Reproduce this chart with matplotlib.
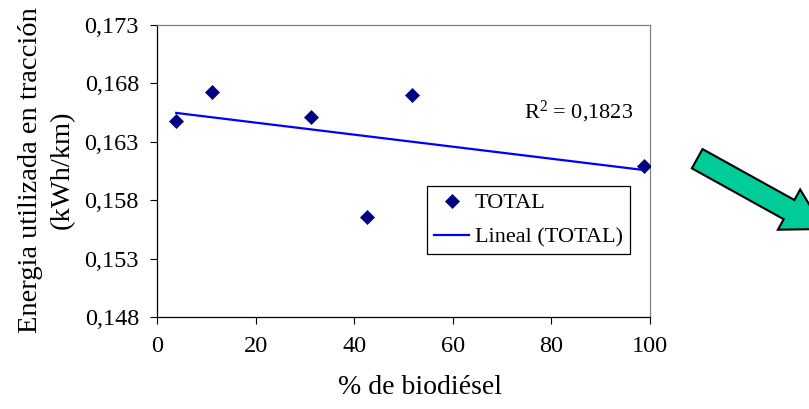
import numpy as np
import matplotlib
matplotlib.use("Agg")
import matplotlib.pyplot as plt
from matplotlib.patches import FancyArrow

plt.rcParams['font.family'] = ['Liberation Serif', 'DejaVu Serif']
plt.rcParams['mathtext.fontset'] = 'custom'
plt.rcParams['mathtext.rm'] = 'Liberation Serif'
plt.rcParams['mathtext.it'] = 'Liberation Serif'

# % biodiesel in the blend vs. traction energy (kWh/km)
biodiesel_pct = [3.9, 11.2, 31.3, 42.5, 51.7, 98.8]
energia = [0.1648, 0.1673, 0.1651, 0.1566, 0.1670, 0.1609]
r2_text = r"R$^\mathregular{2}$ = 0,1823"

yticks = [0.148, 0.153, 0.158, 0.163, 0.168, 0.173]
ytick_labels = ["0,148", "0,153", "0,158", "0,163", "0,168", "0,173"]
xticks = [0, 20, 40, 60, 80, 100]

fig = plt.figure(figsize=(8.09, 4.09), dpi=100)
ax = fig.add_axes([157 / 809, 92 / 409, 493 / 809, 292 / 409])

ax.plot(biodiesel_pct, energia, linestyle='none', marker='D', markersize=7.5,
        color='#000080', markeredgewidth=0.5, label='TOTAL', zorder=3)

# linear trend line over the measured range
slope, intercept = np.polyfit(biodiesel_pct, energia, 1)
xs = np.array([min(biodiesel_pct), max(biodiesel_pct)])
ax.plot(xs, slope * xs + intercept, color='#0000FF', linewidth=1.6,
        label='Lineal (TOTAL)', zorder=2)

ax.text(96.6, 0.16555, r2_text, ha='right', va='center', fontsize=16)

ax.set_xlim(0, 100)
ax.set_ylim(0.148, 0.173)
ax.set_xticks(xticks)
ax.set_yticks(yticks)
ax.set_yticklabels(ytick_labels)
ax.tick_params(direction='out', length=5, width=0.8, labelsize=17.5, colors='black')
ax.tick_params(axis='y', pad=8)
ax.tick_params(axis='x', pad=9)

for side in ('top', 'right'):
    ax.spines[side].set_color('#808080')
for side in ('left', 'bottom'):
    ax.spines[side].set_color('black')
for sp in ax.spines.values():
    sp.set_linewidth(0.9)

ax.set_xlabel('% de biodiésel', fontsize=20)
ax.xaxis.set_label_coords(0.533, -0.2)
ax.set_ylabel('Energia utilizada en tracción\n(kWh/km)', fontsize=20.5,
              linespacing=1.35)
ax.yaxis.set_label_coords(-0.166, 0.503)

leg = ax.legend(loc='upper left', bbox_to_anchor=(0.548, 0.448), fontsize=16,
                frameon=True, fancybox=False, edgecolor='black', framealpha=1,
                handlelength=1.6, handletextpad=0.25, labelspacing=0.62,
                borderpad=0.3, borderaxespad=0)
leg.get_frame().set_linewidth(0.9)

# decorative arrow on the right, partly cut by the figure edge
overlay = fig.add_axes([0, 0, 1, 1], facecolor='none')
overlay.set_xlim(0, 809)
overlay.set_ylim(409, 0)
overlay.axis('off')
ang = np.deg2rad(29)
length = 145
overlay.add_patch(FancyArrow(697.2, 158.7, length * np.cos(ang), length * np.sin(ang),
                             width=22, head_width=46, head_length=40,
                             length_includes_head=True, facecolor='#00CC99',
                             edgecolor='black', linewidth=1.5))

fig.savefig('out.png', dpi=100)
